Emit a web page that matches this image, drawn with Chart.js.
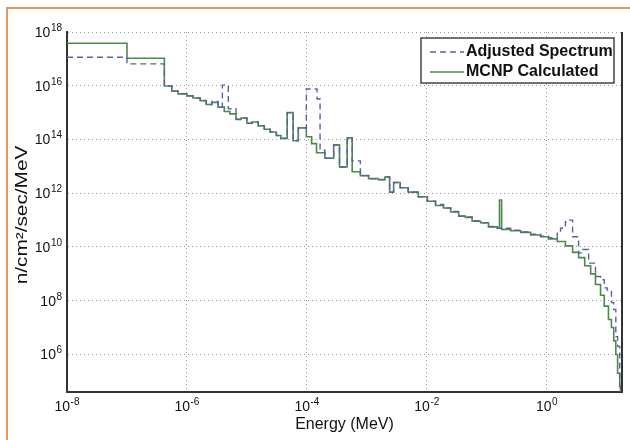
<!DOCTYPE html>
<html>
<head>
<meta charset="utf-8">
<script src="https://cdn.jsdelivr.net/npm/chart.js@4/dist/chart.umd.min.js"></script>
<style>
  body { margin: 0; background: #fff; }
  #wrap { position: relative; width: 630px; height: 440px; }
  #frameTop { position: absolute; left: 6px; top: 7px; width: 624px; height: 2px; background: #e49a5c; }
  #frameLeft { position: absolute; left: 6px; top: 7px; width: 2px; height: 433px; background: #e49a5c; }
</style>
</head>
<body>
<div id="wrap">
  <canvas id="myChart" width="630" height="440"></canvas>
  <div id="frameTop"></div>
  <div id="frameLeft"></div>
</div>
<script>
// neutron spectrum, energy in MeV, flux in n/cm2/sec/MeV (step histogram, value holds until next energy)
const seriesNames = ['Adjusted Spectrum', 'MCNP Calculated'];
const xTitle = 'Energy (MeV)';
const yTitle = 'n/cm\u00B2/sec/MeV';

const adjEnergy = [1e-8, 1e-7, 4.2e-7, 5.6e-7, 7.1e-7, 1e-6, 1.26e-6, 1.66e-6, 2.1e-6, 2.6e-6,
  3.3e-6, 3.9e-6, 4.9e-6, 6.6e-6, 8e-6, 1e-5, 1.23e-5, 1.55e-5, 1.95e-5, 2.45e-5,
  3.1e-5, 3.7e-5, 4.7e-5, 5.9e-5, 7.2e-5, 9.8e-5, 1.48e-4, 1.66e-4, 2e-4, 2.8e-4,
  3.5e-4, 4.7e-4, 5.7e-4, 7.8e-4, 1.07e-3, 1.55e-3, 2e-3, 2.4e-3, 2.8e-3, 3.6e-3,
  4.9e-3, 7.2e-3, 1.02e-2, 1.4e-2, 1.9e-2, 2.5e-2, 3.4e-2, 4.4e-2, 5.7e-2, 7.9e-2,
  0.107, 0.15, 0.25, 0.37, 0.54, 0.79, 1.07, 1.5, 1.7, 2.05,
  2.3, 2.7, 3.4, 4.0, 5.0, 6.5, 7.9, 9.1, 10.2, 12,
  13.1, 14.2, 15.2, 16.5, 17];
const adjFlux = [1.15e17, 6.5e16, 9.8e15, 6.3e15, 5e15, 4.2e15, 3.5e15, 2.8e15, 2e15, 2.6e15,
  1.6e15, 1.05e16, 1.4e15, 5.6e14, 6.3e14, 4e14, 4.5e14, 3.2e14, 2.4e14, 1.9e14,
  1.4e14, 1.1e14, 1e15, 9e13, 2.7e14, 7.6e15, 3.2e15, 4e13, 2e13, 6.3e13,
  9.5e12, 1.15e14, 1.6e13, 4.5e12, 3.5e12, 3.2e12, 4e12, 1.1e12, 2.5e12, 1.6e12,
  1.1e12, 7.4e11, 5e11, 3.8e11, 2.8e11, 2.1e11, 1.4e11, 1.3e11, 9.5e10, 8e10,
  5.8e10, 5e10, 4.2e10, 3.6e10, 3e10, 2.5e10, 2.2e10, 3.6e10, 5e10, 8.7e10,
  1e11, 2.4e10, 6e9, 8e9, 2.5e9, 8e8, 6e8, 3e8, 2.5e8, 8.5e7,
  4.7e7, 4.6e6, 2e6, 6.3e4, 1e4];

const mcnpEnergy = [1e-8, 1e-7, 4.2e-7, 5.6e-7, 7.1e-7, 1e-6, 1.26e-6, 1.66e-6, 2.1e-6, 2.6e-6,
  3.3e-6, 4.2e-6, 5.2e-6, 6.6e-6, 8e-6, 1e-5, 1.23e-5, 1.55e-5, 1.95e-5, 2.45e-5,
  3.1e-5, 3.7e-5, 4.7e-5, 5.9e-5, 7.2e-5, 9.8e-5, 1.2e-4, 1.45e-4, 2e-4, 2.8e-4,
  3.5e-4, 4.7e-4, 5.7e-4, 7.8e-4, 1.07e-3, 1.55e-3, 2e-3, 2.4e-3, 2.8e-3, 3.6e-3,
  4.9e-3, 7.2e-3, 1.02e-2, 1.4e-2, 1.9e-2, 2.5e-2, 3.4e-2, 4.4e-2, 5.7e-2, 7.9e-2,
  0.107, 0.15, 0.163, 0.177, 0.25, 0.37, 0.54, 0.79, 1.07, 1.5,
  2.05, 2.7, 3.4, 4.3, 5.4, 6.5, 7.9, 9.1, 10.7, 12,
  13.1, 14.2, 15.2, 16.5, 17];
const mcnpFlux = [3.8e17, 1.05e17, 9.8e15, 6.3e15, 5e15, 4.2e15, 3.5e15, 2.8e15, 2e15, 2.4e15,
  1.6e15, 1.1e15, 9e14, 5.6e14, 6.3e14, 4e14, 4.5e14, 3.2e14, 2.4e14, 1.9e14,
  1.4e14, 1.1e14, 1e15, 9e13, 2.7e14, 1.26e14, 7e13, 3.2e13, 2e13, 6.3e13,
  9.5e12, 1.15e14, 6.3e12, 4.5e12, 3.5e12, 3.2e12, 4e12, 1.1e12, 2.5e12, 1.6e12,
  1.1e12, 7.4e11, 5e11, 3.5e11, 2.8e11, 2e11, 1.4e11, 1.26e11, 9e10, 8e10,
  5.6e10, 5.2e10, 5.6e11, 4.5e10, 4e10, 3.5e10, 2.8e10, 2.4e10, 2e10, 1.6e10,
  1.1e10, 6.3e9, 4e9, 2e9, 1e9, 4e8, 1.6e8, 6.3e7, 2e7, 1e7,
  3.2e6, 1e6, 2e5, 6.3e4, 1e4];

const xTicks = [1e-8, 1e-6, 1e-4, 1e-2, 1];
const yTicks = [1e6, 1e8, 1e10, 1e12, 1e14, 1e16, 1e18];

const blue = '#5f5fa8';
const green = '#4b8b4a';
const FONT = '"Liberation Sans", Arial, sans-serif';

const toPoints = (xs, ys) => xs.map((x, i) => ({x: x, y: ys[i]}));

// "10" with a raised exponent, anchored at its right edge (align 'right') or its centre
function drawPow(ctx, v, x, baseY, align) {
  const e = String(Math.round(Math.log10(v)));
  ctx.font = '14px ' + FONT;
  const wBase = ctx.measureText('10').width;
  ctx.font = '10px ' + FONT;
  const wExp = ctx.measureText(e).width;
  const total = wBase + wExp + 0.5;
  const left = align === 'right' ? x - total : x - total / 2;
  ctx.textAlign = 'left';
  ctx.textBaseline = 'alphabetic';
  ctx.font = '14px ' + FONT;
  ctx.fillText('10', left, baseY);
  ctx.font = '10px ' + FONT;
  ctx.fillText(e, left + wBase + 0.5, baseY - 6);
}

// tick labels, y title, right frame line and the boxed legend
const extras = {
  id: 'extras',
  afterDraw(chart) {
    const ctx = chart.ctx;
    const a = chart.chartArea;
    const sx = chart.scales.x, sy = chart.scales.y;
    ctx.save();
    ctx.strokeStyle = '#333';
    ctx.lineWidth = 2;
    ctx.beginPath();
    ctx.moveTo(a.right, a.top);
    ctx.lineTo(a.right, a.bottom);
    ctx.stroke();

    ctx.fillStyle = '#111';
    yTicks.forEach(v => drawPow(ctx, v, a.left - 5, sy.getPixelForValue(v) + 5, 'right'));
    xTicks.forEach(v => drawPow(ctx, v, sx.getPixelForValue(v), a.bottom + 19, 'center'));

    ctx.save();
    ctx.translate(23, (a.top + a.bottom) / 2 + 3);
    ctx.rotate(-Math.PI / 2);
    ctx.scale(1.3, 1);
    ctx.font = '16px ' + FONT;
    ctx.textAlign = 'center';
    ctx.textBaseline = 'middle';
    ctx.fillText(yTitle, 0, 0);
    ctx.restore();

    const bx = 421, by = 38, bw = 193, bh = 45;
    ctx.fillStyle = '#fff';
    ctx.fillRect(bx, by, bw, bh);
    ctx.strokeStyle = '#444';
    ctx.lineWidth = 1.5;
    ctx.strokeRect(bx, by, bw, bh);

    const rows = [
      {name: seriesNames[0], color: blue, dash: [6, 4], y: 52},
      {name: seriesNames[1], color: green, dash: [], y: 72}
    ];
    ctx.font = 'bold 16px ' + FONT;
    ctx.textAlign = 'left';
    ctx.textBaseline = 'middle';
    rows.forEach(r => {
      ctx.strokeStyle = r.color;
      ctx.lineWidth = 1.5;
      ctx.setLineDash(r.dash);
      ctx.beginPath();
      ctx.moveTo(430, r.y);
      ctx.lineTo(464, r.y);
      ctx.stroke();
      ctx.setLineDash([]);
      ctx.fillStyle = '#111';
      ctx.fillText(r.name, 466, r.y);
    });
    ctx.restore();
  }
};

const data = {
  datasets: [{
    label: seriesNames[0],
    data: toPoints(adjEnergy, adjFlux),
    borderColor: blue,
    borderWidth: 1.4,
    borderDash: [6, 4],
    stepped: 'before',
    pointRadius: 0
  }, {
    label: seriesNames[1],
    data: toPoints(mcnpEnergy, mcnpFlux),
    borderColor: green,
    borderWidth: 1.6,
    stepped: 'before',
    pointRadius: 0
  }]
};

const config = {
  type: 'line',
  data: data,
  plugins: [extras],
  options: {
    responsive: false,
    animation: false,
    layout: {padding: {left: 0, top: 32, right: 8, bottom: 0}},
    plugins: {legend: {display: false}, tooltip: {enabled: false}},
    scales: {
      x: {
        type: 'logarithmic',
        min: 1e-8,
        max: 18,
        afterBuildTicks: s => { s.ticks = xTicks.map(v => ({value: v})); },
        afterFit: s => { s.height = 48; },
        ticks: {display: false},
        grid: {color: '#9a9a9a', lineWidth: 1, tickLength: 0},
        border: {display: true, color: '#333', width: 2, dash: [1, 3]},
        title: {
          display: true,
          text: xTitle,
          color: '#111',
          padding: {top: 0, bottom: 6},
          font: {family: FONT, size: 16}
        }
      },
      y: {
        type: 'logarithmic',
        min: 4e4,
        max: 1e18,
        afterBuildTicks: s => { s.ticks = yTicks.map(v => ({value: v})); },
        afterFit: s => { s.width = 67; },
        ticks: {display: false},
        grid: {color: '#9a9a9a', lineWidth: 1, tickLength: 0},
        border: {display: true, color: '#333', width: 2, dash: [1, 3]}
      }
    }
  }
};

const myChart = new Chart(document.getElementById('myChart'), config);
</script>
</body>
</html>
